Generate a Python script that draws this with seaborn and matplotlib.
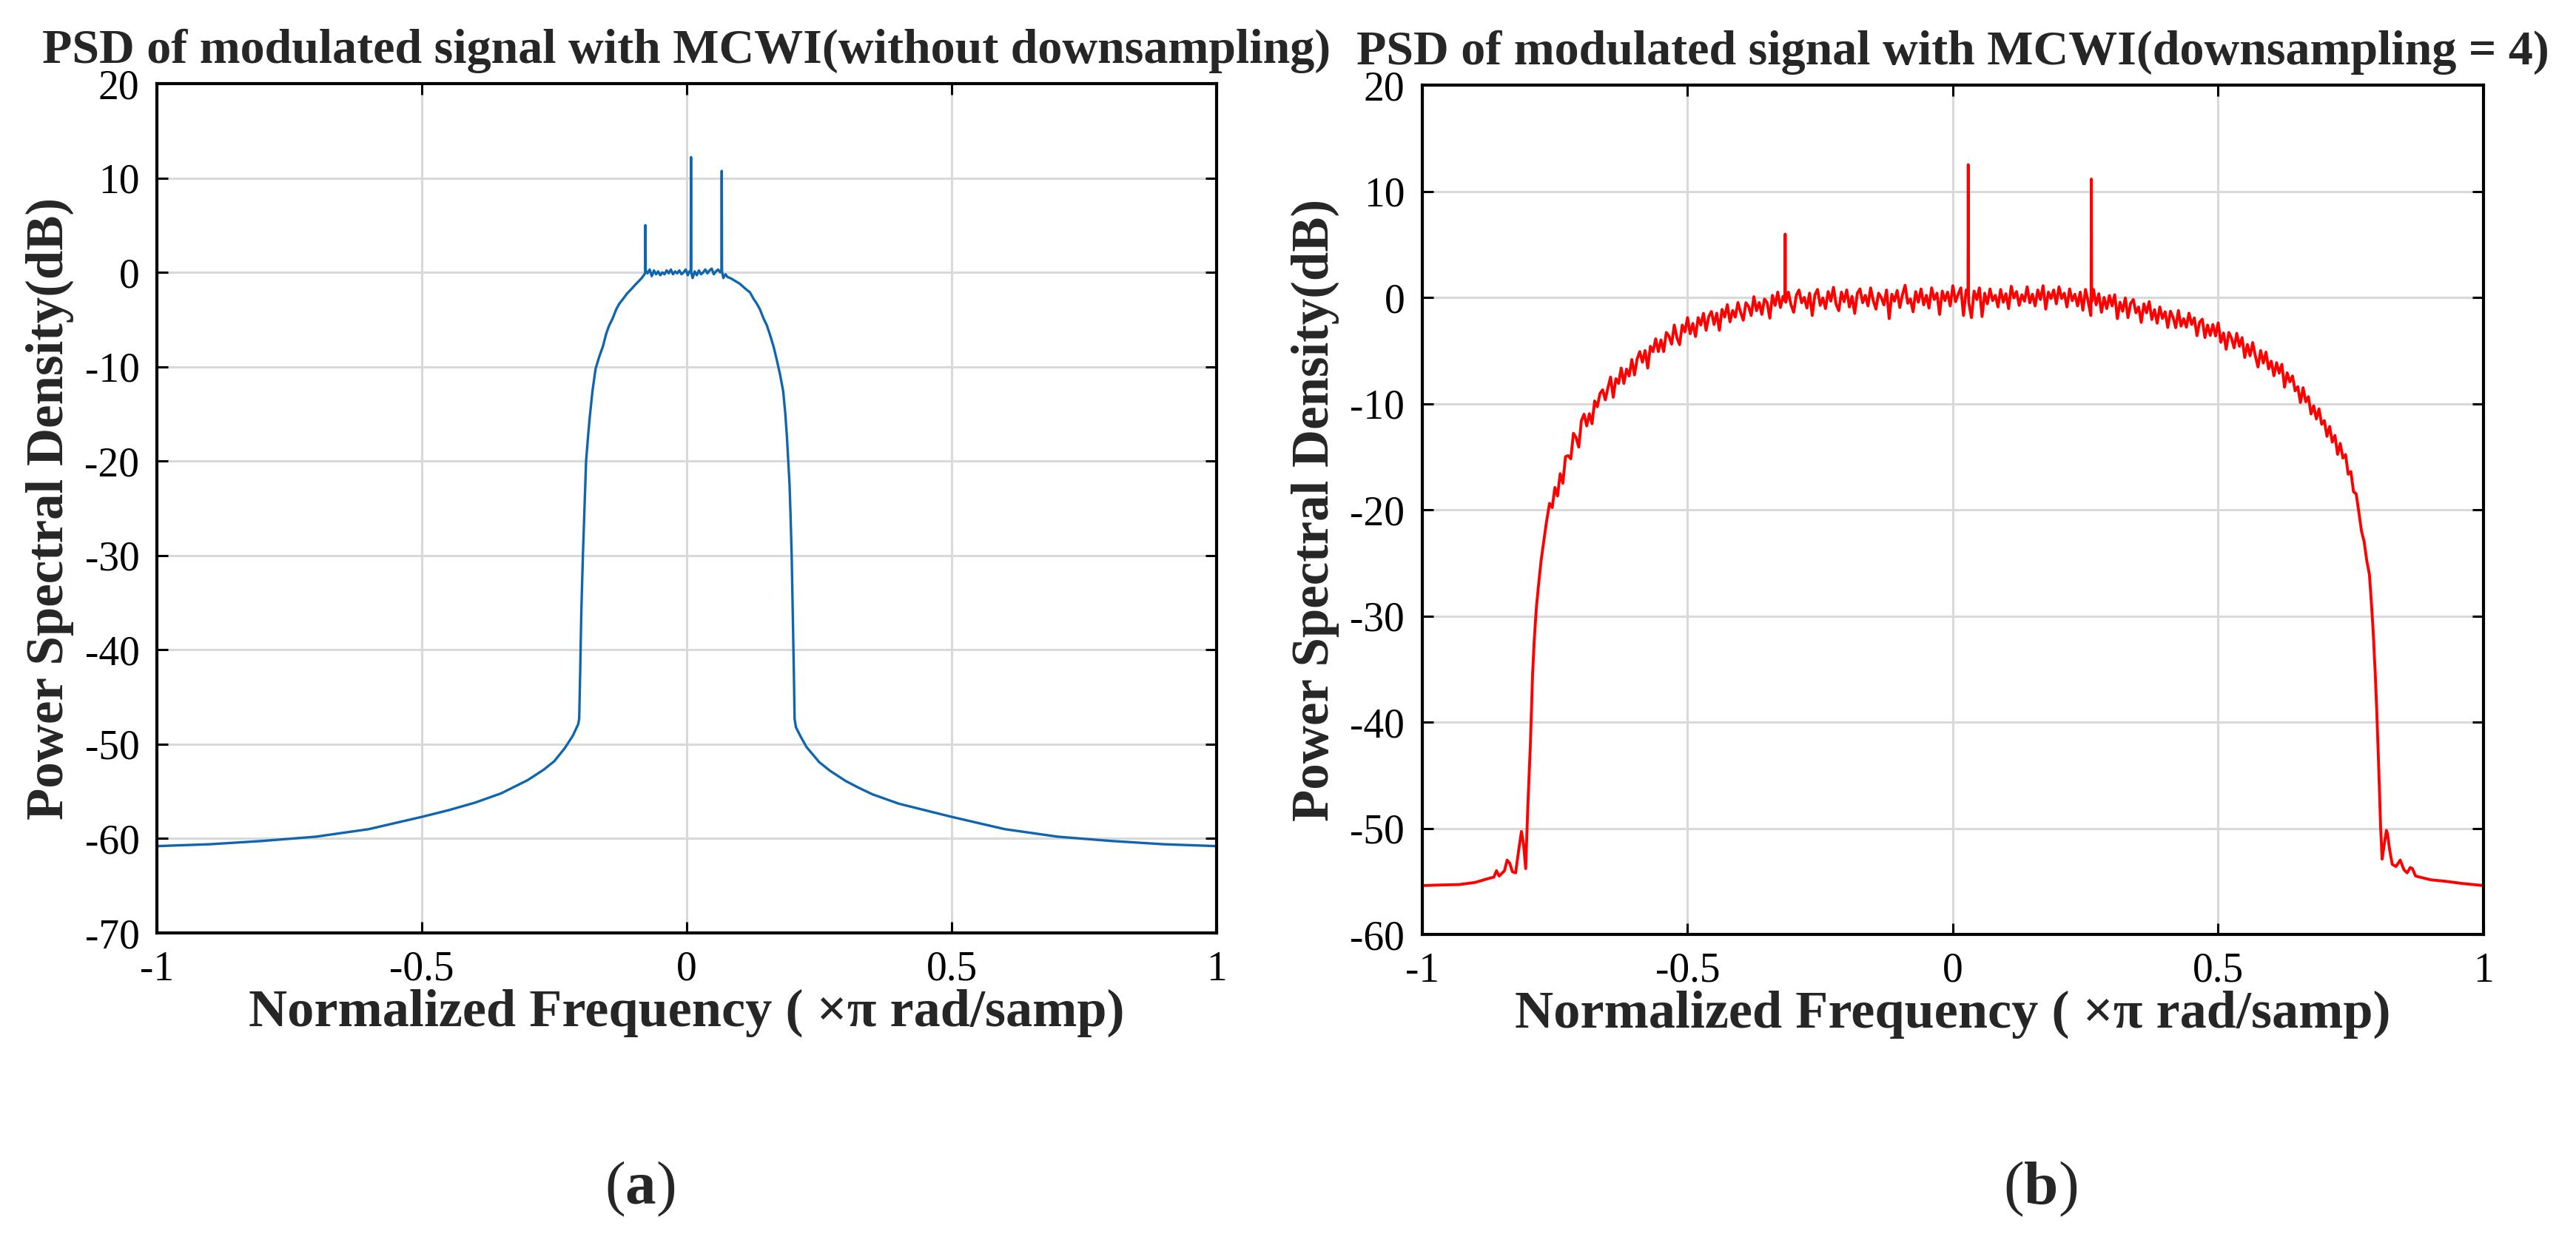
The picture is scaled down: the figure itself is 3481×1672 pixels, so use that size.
import matplotlib
matplotlib.use("Agg")
import matplotlib.pyplot as plt
import numpy as np
import pandas as pd
import seaborn as sns

# ---- panel (a): PSD without downsampling (blue) ----
FREQ_A = [
    -1.0, -0.9, -0.8, -0.7, -0.6, -0.5, -0.45, -0.4, -0.35, -0.3, -0.27, -0.25, -0.23,
    -0.215, -0.205, -0.203, -0.201, -0.199, -0.196, -0.193, -0.19, -0.186, -0.183,
    -0.178, -0.172, -0.165, -0.158, -0.152, -0.147, -0.14, -0.133, -0.127, -0.12,
    -0.112, -0.105, -0.097, -0.09, -0.085,
    -0.081, -0.0785, -0.078, -0.0775, -0.074, -0.07, -0.066, -0.062, -0.058, -0.054,
    -0.05, -0.046, -0.042, -0.038, -0.034, -0.03, -0.026, -0.022, -0.018, -0.014,
    -0.01, -0.006, -0.002, 0.002, 0.005, 0.0075, 0.008, 0.0085, 0.011, 0.015, 0.019,
    0.023, 0.027, 0.031, 0.035, 0.039, 0.043, 0.047, 0.051, 0.055, 0.059, 0.063,
    0.0655, 0.066, 0.0665, 0.069, 0.073, 0.077,
    0.082, 0.088, 0.094, 0.1, 0.106, 0.112, 0.119, 0.126, 0.132, 0.138, 0.145, 0.151,
    0.157, 0.164, 0.17, 0.176, 0.182, 0.186, 0.189, 0.192, 0.194, 0.196, 0.198, 0.2,
    0.202, 0.2035, 0.206, 0.215, 0.226, 0.25, 0.27, 0.3, 0.324, 0.35, 0.4, 0.45, 0.5,
    0.6, 0.7, 0.8, 0.9, 1.0,
]
PSD_A = [
    -60.8, -60.6, -60.25, -59.8, -59.0, -57.7, -57.0, -56.2, -55.2, -53.8, -52.7, -51.8, -50.4,
    -49.1, -47.9, -47.3, -42.0, -36.0, -30.0, -25.0, -20.0, -17.2, -15.3,
    -12.6, -10.2, -8.9, -7.8, -6.5, -5.7, -4.9, -3.9, -3.3, -2.8,
    -2.2, -1.8, -1.3, -0.9, -0.6,
    -0.3, -0.1, 5.0, 0.2, -0.1, 0.3, -0.4, 0.2, -0.2, 0.1,
    -0.3, 0.0, -0.2, 0.2, -0.1, 0.3, -0.2, 0.1, -0.1, 0.2,
    -0.2, 0.0, 0.3, -0.3, 0.1, 0.2, 12.2, 0.0, -0.6, 0.1, -0.3,
    0.2, -0.2, 0.0, 0.3, -0.1, 0.2, 0.4, -0.2, 0.1, 0.3, 0.0,
    0.3, 10.75, 0.1, -0.6, -0.2, -0.5,
    -0.6, -0.8, -1.0, -1.2, -1.5, -1.8, -2.1, -2.8, -3.3, -3.9, -4.9, -5.6,
    -6.6, -7.9, -9.3, -10.8, -12.6, -15.0, -17.4, -20.5, -22.5, -26.0, -30.0, -36.0,
    -42.0, -47.3, -48.2, -49.2, -50.3, -51.9, -52.8, -53.9, -54.6, -55.3, -56.3, -57.0, -57.7,
    -59.0, -59.8, -60.25, -60.6, -60.8,
]

# ---- panel (b): PSD with downsampling = 4 (red) ----
SKIRT_L_FREQ = [
    -1.0, -0.97, -0.93, -0.9, -0.88, -0.865, -0.86, -0.855, -0.845, -0.84, -0.835, -0.83,
    -0.824, -0.818, -0.813, -0.809, -0.805, -0.801, -0.796, -0.792, -0.789, -0.785,
    -0.781, -0.776, -0.771, -0.766,
]
SKIRT_L_PSD = [
    -55.4, -55.35, -55.3, -55.1, -54.8, -54.6, -54.0, -54.5, -54.0, -53.0, -53.3, -54.1,
    -54.2, -52.0, -50.3, -51.5, -53.8, -48.0, -41.9, -35.5, -32.4, -29.3,
    -27.2, -24.8, -23.0, -21.2,
]
# passband, one value per 0.005 bin from -0.76 to 0.76
BAND_START, BAND_STEP = -0.76, 0.005
BAND_PSD = [
    -19.4, -19.8, -17.9, -18.7, -16.6, -17.5, -15.0, -14.9, -15.2, -12.8,
    -13.2, -14.1, -11.6, -11.0, -12.1, -10.95, -11.9, -9.75, -10.3, -9.05,
    -8.7, -9.65, -8.5, -7.5, -9.4, -7.65, -8.1, -6.65, -8.1, -6.75,
    -7.4, -5.85, -7.3, -5.8, -5.1, -6.1, -5.0, -6.65, -4.6, -5.1,
    -3.9, -5.1, -4.0, -5.1, -3.3, -3.65, -4.4, -2.6, -3.8, -4.45,
    -2.6, -3.25, -1.9, -3.42, -2.45, -3.68, -1.9, -2.6, -1.5, -3.1,
    -1.8, -1.33, -2.55, -1.48, -3.1, -1.13, -1.85, -0.68, -2.3, -1.23,
    -1.85, -0.48, -1.4, -2.15, -0.5, -0.85, -1.7, 0.07, -1.25, -0.48,
    -1.6, -0.15, -0.5, -1.95, 0.2, -0.75, 0.5, -0.95, 0.1, -0.45,
    0.5, -0.7, -1.4, 0.2, 0.7, -0.5, 0.0, -1.0, 0.4, -1.7,
    0.25, 0.75, -0.75, -0.05, -1.05, 0.55, -0.35, 0.95, -0.65, -1.25,
    0.5, -0.4, 0.7, -0.9, 0.1, -1.5, 0.4, 0.8, -0.5, 0.2,
    -0.8, 0.9, -0.3, -1.1, 0.4, 0.0, -0.7, 0.7, -2.0, 0.3,
    -0.35, 0.65, -0.95, 0.25, 1.15, -0.55, -0.15, -1.35, 0.55, -0.45,
    0.8, -0.7, 0.2, -1.0, 0.9, -0.2, 0.4, -1.6, 0.6, -0.3,
    0.5, -0.8, 1.1, -0.4, 0.3, 0.9, -1.7, 0.7, -0.5, -1.9,
    0.6, -0.2, 0.9, -1.8, 0.4, -0.6, 0.8, -0.3, 0.2, -0.9,
    0.75, -0.45, 0.35, -1.05, 1.05, -0.05, 0.55, -0.75, 0.25, -0.35,
    1.0, -0.5, 0.3, -0.8, 0.7, -0.2, 1.1, -1.1, 0.5, -0.1,
    0.7, -0.6, 1.0, -0.1, 0.4, -0.9, 0.8, -0.3, 0.3, -0.8,
    0.5, -1.2, 0.75, -0.4, -1.7, 0.75, -0.7, 0.35, -1.4, 0.0,
    -1.05, 0.18, -0.8, 0.25, -2.0, -0.45, -1.3, -0.05, -1.9, -0.55,
    -0.2, -1.45, -0.9, -2.35, -0.6, -1.45, -0.4, -2.08, -1.15, -2.43,
    -0.9, -1.98, -1.35, -2.83, -1.3, -1.88, -2.85, -1.23, -2.7, -2.0,
    -2.8, -1.48, -2.55, -1.93, -3.6, -2.33, -2.05, -3.78, -2.6, -3.58,
    -2.55, -3.63, -2.4, -4.23, -3.35, -4.88, -3.3, -3.83, -4.75, -3.38,
    -4.6, -3.78, -5.65, -4.43, -5.5, -4.25, -5.5, -6.55, -5.0, -6.18,
    -5.15, -6.73, -6.0, -7.38, -6.15, -7.13, -6.3, -8.45, -7.1, -7.95,
    -7.4, -8.8, -8.4, -9.9, -8.5, -9.83, -9.35, -10.98, -10.2, -11.45,
    -10.5, -11.95, -11.6, -13.08, -12.15, -13.63, -13.0, -14.78, -13.75, -15.13,
    -14.8, -16.65, -16.4, -18.3, -18.5,
]
SPIKE_FREQ = [-0.3165, -0.316, -0.3155, 0.0285, 0.029, 0.0295, 0.2605, 0.261, 0.2615]
SPIKE_PSD = [-0.3, 5.96, -0.1, 0.4, 12.5, 0.2, 0.0, 11.15, -0.4]
SKIRT_R_FREQ = [
    0.765, 0.77, 0.775, 0.78, 0.785, 0.789, 0.792, 0.796, 0.799, 0.803, 0.806, 0.809,
    0.813, 0.817, 0.819, 0.823, 0.828, 0.835, 0.843, 0.85, 0.856, 0.862, 0.866, 0.872,
    0.88, 0.9, 0.929, 0.96, 1.0,
]
SKIRT_R_PSD = [
    -20.2, -22.0, -23.0, -24.8, -26.1, -29.0, -31.4, -35.5, -39.2, -45.0, -49.8, -52.9,
    -51.5, -50.2, -50.5, -52.0, -53.4, -53.6, -53.0, -53.9, -54.2, -53.7, -53.8, -54.5,
    -54.6, -54.85, -55.0, -55.2, -55.4,
]

TITLES = [
    "PSD of modulated signal with MCWI(without downsampling)",
    "PSD of modulated signal with MCWI(downsampling = 4)",
]
PANEL_TAGS = [r"($\mathbf{a}$)", r"($\mathbf{b}$)"]
XTICKS = [-1, -0.5, 0, 0.5, 1]
XTICKLABELS = ["-1", "-0.5", "0", "0.5", "1"]

sns.set_theme(style="ticks")
plt.rcParams["font.family"] = ["Liberation Serif", "DejaVu Serif"]
plt.rcParams["mathtext.fontset"] = "custom"
plt.rcParams["mathtext.rm"] = "Liberation Serif"
plt.rcParams["mathtext.bf"] = "Liberation Serif:bold"
plt.rcParams["axes.unicode_minus"] = False

band_freq = np.round(BAND_START + BAND_STEP * np.arange(len(BAND_PSD)), 4)
df_a = pd.DataFrame({"freq": FREQ_A, "psd": PSD_A})
df_b = pd.DataFrame({
    "freq": np.concatenate([SKIRT_L_FREQ, band_freq, SPIKE_FREQ, SKIRT_R_FREQ]),
    "psd": np.concatenate([SKIRT_L_PSD, BAND_PSD, SPIKE_PSD, SKIRT_R_PSD]),
}).sort_values("freq")

fig = plt.figure(figsize=(34.81, 16.72), dpi=100)
ax_a = fig.add_axes([0.0609, 0.2458, 0.4114, 0.6866])
ax_b = fig.add_axes([0.5521, 0.2446, 0.4120, 0.6866])

panels = [
    (ax_a, df_a, "#0f66ae", 2.4, (-70, 20), 865),
    (ax_b, df_b, "#ff0000", 2.8, (-60, 20), 2757),
]
for k, (ax, df, color, lw, ylim, tag_x) in enumerate(panels):
    sns.lineplot(data=df, x="freq", y="psd", ax=ax, color=color, lw=lw,
                 estimator=None, sort=False)
    ax.set_xlim(-1, 1)
    ax.set_ylim(*ylim)
    ax.set_xticks(XTICKS)
    ax.set_xticklabels(XTICKLABELS)
    ax.set_yticks(np.arange(ylim[0], ylim[1] + 1, 10))
    ax.grid(True, color="#d9d9d9", lw=2.2)
    ax.set_axisbelow(True)
    for side in ax.spines.values():
        side.set_color("black")
        side.set_linewidth(3)
    ax.tick_params(direction="in", length=11, width=2.2, labelsize=40, pad=17,
                   top=True, right=True, colors="black")
    ax.set_xlabel("Normalized Frequency ( ×π rad/samp)", fontsize=52,
                  fontweight="bold", labelpad=0)
    ax.set_ylabel("Power Spectral Density(dB)", fontsize=51, fontweight="bold")
    ax.yaxis.set_label_coords(-0.078, 0.5)
    ax.set_title(TITLES[k], fontsize=47.5, fontweight="bold", pad=20)
    fig.text(tag_x / 3481, 1 - 1607 / 1672, PANEL_TAGS[k], fontsize=60,
             ha="center", va="center")

fig.savefig("out.png", dpi=100, facecolor="white")
